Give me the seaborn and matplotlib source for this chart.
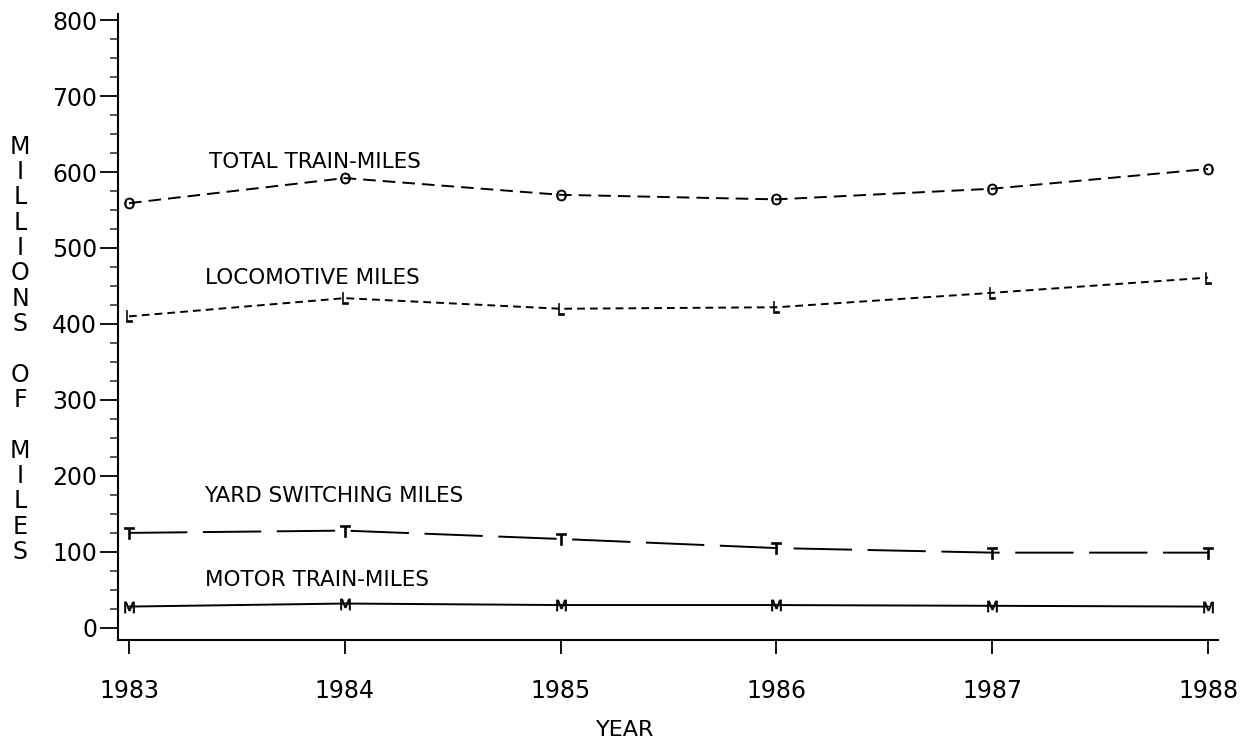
import numpy as np
import pandas as pd
import matplotlib
matplotlib.use("Agg")
import matplotlib.pyplot as plt
import matplotlib.transforms as mtransforms
from matplotlib.ticker import MultipleLocator
import seaborn as sns

# ---- data ----
years = [1983, 1984, 1985, 1986, 1987, 1988]
total_train = [559, 592, 570, 564, 578, 604]
locomotive = [410, 434, 420, 422, 441, 461]
yard_switching = [125, 128, 117, 105, 99, 99]
motor_train = [28, 32, 30, 30, 29, 28]

series_names = ["TOTAL TRAIN-MILES", "LOCOMOTIVE MILES", "YARD SWITCHING MILES", "MOTOR TRAIN-MILES"]
series_values = [total_train, locomotive, yard_switching, motor_train]
series_markers = ["O", "L", "T", "M"]
label_pos = [(1983.37, 613), (1983.35, 460), (1983.35, 174), (1983.35, 63)]
y_ticks = [0, 100, 200, 300, 400, 500, 600, 700, 800]
ylabel_text = "MILLIONS OF MILES"
xlabel_text = "YEAR"

styles = [(0, (6.5, 3.6)), (0, (4.0, 2.6)), (0, (30, 8)), "-"]

sns.set_style("ticks")
plt.rcParams["font.family"] = ["DejaVu Sans"]
plt.rcParams["text.color"] = "black"

fig = plt.figure(figsize=(12.42, 7.41), dpi=100)
ax = fig.add_axes([118 / 1242, 101 / 741, 1100 / 1242, 626 / 741])

df = pd.DataFrame({
    "year": np.tile(years, len(series_names)),
    "value": np.concatenate(series_values),
    "series": np.repeat(series_names, len(years)),
})

for name, mk, ls in zip(series_names, series_markers, styles):
    sub = df[df["series"] == name]
    sns.lineplot(data=sub, x="year", y="value", ax=ax, color="black",
                 linewidth=1.4, linestyle=ls, marker=r"$\mathrm{%s}$" % mk,
                 markersize=8, markeredgewidth=0.45, markeredgecolor="black",
                 markerfacecolor="black", legend=False)

for name, (lx, ly) in zip(series_names, label_pos):
    ax.text(lx, ly, name, fontsize=15.5, va="center", ha="left", color="black")

ax.set_xlim(1982.949, 1988.046)
ax.set_ylim(-16, 808)
ax.set_xticks(years)
ax.set_xticklabels([str(y) for y in years])
ax.set_yticks(y_ticks)
ax.set_yticklabels([str(v) for v in y_ticks])
ax.yaxis.set_minor_locator(MultipleLocator(25))
ax.tick_params(axis="y", which="major", length=13, width=1.3, direction="out",
               labelsize=17, pad=2, colors="black")
ax.tick_params(axis="y", which="minor", length=6, width=1.1, direction="out")
ax.tick_params(axis="x", which="major", length=10, width=1.3, direction="out",
               labelsize=17, pad=18, colors="black")
for side in ["top", "right"]:
    ax.spines[side].set_visible(False)
for side in ["left", "bottom"]:
    ax.spines[side].set_linewidth(1.5)
    ax.spines[side].set_color("black")
ax.set_xlabel("")
ax.set_ylabel("")

fig.text(625 / 1242, 1 - 730 / 741, xlabel_text, fontsize=16, ha="center", va="center",
         color="black")

trans = mtransforms.blended_transform_factory(fig.transFigure, ax.transData)
step = 100 / 3
top = 600 + step
for i, ch in enumerate(ylabel_text):
    if ch == " ":
        continue
    fig.text(20 / 1242, top - i * step, ch, fontsize=17, ha="center", va="center",
             transform=trans, color="black")

fig.savefig("out.png", dpi=100)
